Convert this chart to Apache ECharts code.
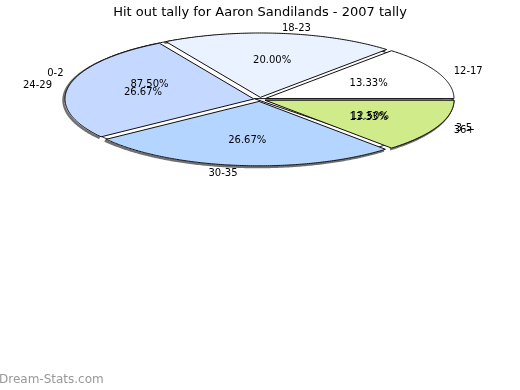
<!DOCTYPE html>
<html><head><meta charset="utf-8">
<script src="https://cdn.jsdelivr.net/npm/echarts@6/dist/echarts.min.js"></script>
<style>html,body{margin:0;padding:0;background:#fff}#c{width:520px;height:390px}</style>
</head><body><div id="c"></div>
<script>
const chartTitle = 'Hit out tally for Aaron Sandilands - 2007 tally';
const watermark = 'Dream-Stats.com';
// first pie (drawn as outlines only, underneath)
const groupA = ['0-2', '3-5'];
const countsA = [7, 1];
// second pie (filled, on top)
const groupB = ['12-17', '18-23', '24-29', '30-35', '36+'];
const countsB = [2, 3, 4, 4, 2];
const colorsB = ['#ffffff', '#eaf1ff', '#c5d8ff', '#b3d5ff', '#d0ec8a'];

const CX = 259.7, CY = 99.4, R = 188.8, SY = 0.341, EXPLODE = 6;
const FONT = 'DejaVu Sans';

function angles(counts) {
  const total = counts.reduce((a, b) => a + b, 0);
  const starts = []; let acc = 0;
  counts.forEach(v => { starts.push(acc / total * Math.PI * 2); acc += v; });
  return { total, starts };
}

function geom(starts, total, i, v) {
  const a0 = starts[i], a1 = a0 + v / total * Math.PI * 2, am = (a0 + a1) / 2;
  const ox = CX + EXPLODE * Math.cos(am), oy = CY - SY * EXPLODE * Math.sin(am);
  const n = Math.max(2, Math.ceil((a1 - a0) / 0.01));
  const arc = [];
  for (let k = 0; k <= n; k++) {
    const a = a0 + (a1 - a0) * k / n;
    arc.push([ox + R * Math.cos(a), oy - SY * R * Math.sin(a)]);
  }
  return { a0, a1, am, ox, oy, arc };
}

function sliceSeries(names, counts, colors, z, filled) {
  const { total, starts } = angles(counts);
  return {
    type: 'custom', coordinateSystem: 'none', z: z, silent: true,
    data: counts.map((v, i) => ({ value: [v, i], name: names[i] })),
    renderItem(params, api) {
      const i = params.dataIndex;
      const g = geom(starts, total, i, api.value(0));
      return {
        type: 'polygon',
        shape: { points: [[g.ox, g.oy]].concat(g.arc) },
        style: { fill: filled ? colors[i] : 'none', stroke: '#111', lineWidth: 1 }
      };
    }
  };
}

function labelSeries(names, counts, z) {
  const { total, starts } = angles(counts);
  return {
    type: 'custom', coordinateSystem: 'none', z: z, silent: true,
    data: counts.map((v, i) => ({ value: [v, i], name: names[i] })),
    renderItem(params, api) {
      const i = params.dataIndex;
      const v = api.value(0);
      const g = geom(starts, total, i, v);
      const rp = 0.6 * R + EXPLODE;
      const pct = (v / total * 100).toFixed(2) + '%';
      const rn = 1.09 * (R + EXPLODE);
      const c = Math.cos(g.am), s = Math.sin(g.am);
      return {
        type: 'group',
        children: [{
          type: 'text',
          style: { x: CX + rp * c, y: CY + 1 - SY * rp * s, text: pct,
            align: 'center', verticalAlign: 'middle', fill: '#000', font: '10px "' + FONT + '"' }
        }, {
          type: 'text',
          style: { x: CX + rn * c, y: CY + 1.5 - SY * rn * s, text: names[i],
            align: Math.abs(c) < 0.02 ? 'center' : (c > 0 ? 'left' : 'right'),
            verticalAlign: 'middle', fill: '#000', font: '10px "' + FONT + '"' }
        }]
      };
    }
  };
}

function shadowSeries(names, counts) {
  const { total, starts } = angles(counts);
  return {
    type: 'custom', coordinateSystem: 'none', z: 1, silent: true,
    data: counts.map((v, i) => ({ value: [v, i], name: names[i] })),
    renderItem(params, api) {
      const i = params.dataIndex;
      const g = geom(starts, total, i, api.value(0));
      return {
        type: 'polyline',
        shape: { points: g.arc.map(p => [p[0] - 1.5, p[1] + 1.2]) },
        style: { fill: 'none', stroke: '#707070', lineWidth: 2.5 }
      };
    }
  };
}

const chart = echarts.init(document.getElementById('c'), null, { renderer: 'canvas' });
chart.setOption({
  backgroundColor: '#fff',
  animation: false,
  title: {
    text: chartTitle, left: 'center', top: 1,
    textStyle: { fontSize: 13, fontWeight: 'normal', color: '#000', fontFamily: FONT }
  },
  graphic: [{
    type: 'text', left: -1, top: 374,
    style: { text: watermark, fill: '#999', font: '12px "' + FONT + '"' }
  }],
  series: [
    shadowSeries(groupB, countsB),
    sliceSeries(groupA, countsA, null, 2, false),
    sliceSeries(groupB, countsB, colorsB, 3, true),
    labelSeries(groupA, countsA, 5),
    labelSeries(groupB, countsB, 5)
  ]
});
</script>
</body></html>
